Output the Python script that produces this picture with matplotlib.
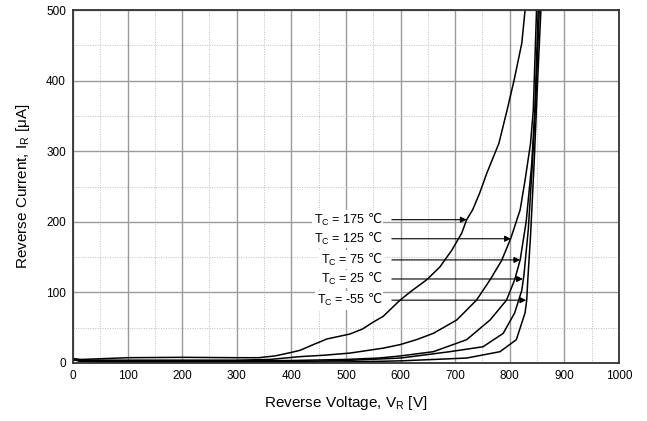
import matplotlib
matplotlib.use("Agg")
import matplotlib.pyplot as plt
from matplotlib.ticker import MultipleLocator

plt.rcParams["font.family"] = ["Liberation Sans", "DejaVu Sans"]
plt.rcParams["mathtext.fontset"] = "custom"
plt.rcParams["mathtext.rm"] = "Liberation Sans"
plt.rcParams["mathtext.it"] = "Liberation Sans"
plt.rcParams["mathtext.sf"] = "DejaVu Sans"

# reverse voltage [V] / reverse current [uA] per case temperature
v_175 = [0, 15, 50, 100, 200, 300, 340, 370, 400, 416, 440, 465, 507, 530, 550, 568,
         599, 620, 648, 672, 694, 712, 721, 732, 745, 758, 780, 795, 808, 822, 828]
i_175 = [6, 5, 6, 7.5, 8, 7.5, 7.5, 10, 15, 18, 26, 34, 41, 48, 58, 66,
         89, 102, 118, 136, 160, 184, 203, 217, 241, 269, 311, 358, 401, 453, 500]

v_125 = [0, 15, 100, 200, 300, 360, 416, 460, 507, 568, 599, 629, 660, 703, 739,
         764, 785, 802, 819, 828, 838, 843, 849]
i_125 = [6, 4, 4, 4, 4, 5, 9, 11, 14, 21, 26, 33, 42, 61, 89,
         118, 145, 177, 217, 259, 311, 358, 500]

v_75 = [0, 15, 100, 200, 300, 400, 500, 560, 600, 660, 721, 764, 794, 809, 819,
        830, 840, 846, 852]
i_75 = [5, 3, 3, 3, 3, 3.5, 5, 7, 10, 16, 33, 61, 89, 118, 146,
        200, 280, 360, 500]

v_25 = [0, 15, 100, 200, 300, 400, 500, 600, 690, 751, 788, 809, 822, 826, 834,
        842, 848, 854]
i_25 = [5, 2.5, 2, 2, 2, 2, 3.5, 7, 16, 23, 42, 71, 103, 125, 190,
        290, 380, 500]

v_m55 = [0, 15, 100, 200, 300, 400, 500, 600, 721, 782, 812, 828, 831, 833, 838,
         845, 851, 857]
i_m55 = [5, 2, 1, 1, 1, 1, 1.5, 3, 7, 16, 33, 71, 89, 118, 180,
         290, 400, 500]

curves = [(v_175, i_175), (v_125, i_125), (v_75, i_75), (v_25, i_25), (v_m55, i_m55)]

labels = ["175", "125", "75", "25", "-55"]
label_y = [203, 176, 146, 119, 89]
arrow_tip_v = [721, 802, 819, 824, 830]

fig = plt.figure(figsize=(6.47, 4.21), dpi=100)
ax = fig.add_axes([0.1128, 0.1378, 0.8439, 0.8384])

for v, i in curves:
    ax.plot(v, i, color="black", lw=1.1)

ax.set_xlim(0, 1000)
ax.set_ylim(0, 500)
ax.xaxis.set_major_locator(MultipleLocator(100))
ax.yaxis.set_major_locator(MultipleLocator(100))
ax.xaxis.set_minor_locator(MultipleLocator(50))
ax.yaxis.set_minor_locator(MultipleLocator(50))
ax.grid(which="major", color="#9a9a9a", lw=1.0, ls="-")
ax.grid(which="minor", color="#bdbdbd", lw=0.7, ls=(0, (1, 1.5)))
ax.set_axisbelow(True)
ax.tick_params(which="both", length=0, labelsize=8.5, pad=5)
for s in ax.spines.values():
    s.set_color("#333333")
    s.set_linewidth(1.3)

ax.set_xlabel("Reverse Voltage, V$_\\mathrm{R}$ [V]", fontsize=11, labelpad=9)
ax.set_ylabel("Reverse Current, I$_\\mathrm{R}$ [\u03bcA]", fontsize=11, labelpad=10)

for lab, y, tip in zip(labels, label_y, arrow_tip_v):
    ax.text(566, y, "T$_\\mathrm{C}$ = " + lab + " $\\mathsf{\u2103}$", ha="right",
            va="center", fontsize=9,
            bbox=dict(facecolor="white", edgecolor="none", pad=1.0))
    ax.annotate("", xy=(tip, y), xytext=(584, y),
                arrowprops=dict(arrowstyle="-|>", color="black", lw=0.8,
                                mutation_scale=9, shrinkA=0, shrinkB=0))

fig.savefig("out.png", dpi=100)
